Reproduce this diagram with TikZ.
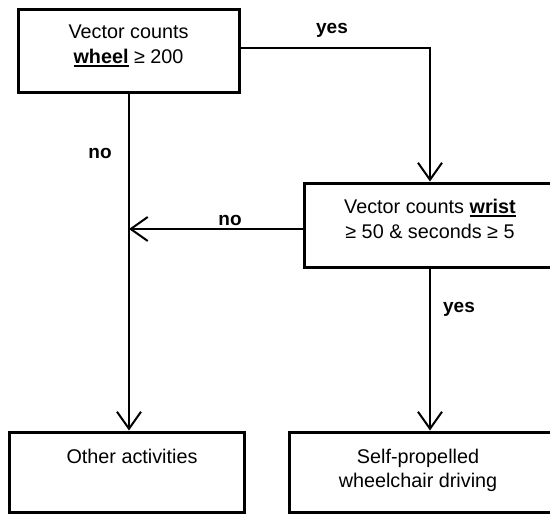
\documentclass[tikz,border=0pt]{standalone}
\usepackage{fontspec}
\setmainfont{Liberation Sans}
\usepackage{tikz}
\usetikzlibrary{arrows.meta}

\newcommand{\undl}[1]{\setbox0\hbox{#1}\rlap{\rule[-3.2pt]{\wd0}{1.6pt}}\box0\relax}

\tikzset{
  box/.style={draw=black,line width=3pt,inner sep=0pt},
  boxtext/.style={inner sep=0pt,align=center,anchor=north,
    font=\fontsize{19.8}{24.5}\selectfont},
  answer/.style={inner sep=0pt,anchor=base,
    font=\fontsize{19}{22}\selectfont\bfseries},
}

\begin{document}
\begin{tikzpicture}[x=1pt,y=-1pt]
\useasboundingbox (0,0) rectangle (550,515);

\node[box,minimum width=221pt,minimum height=83pt] (wheel) at (129,51) {};
\node[box,minimum width=251pt,minimum height=84pt] (wrist) at (430,225) {};
\node[box,minimum width=235pt,minimum height=80pt] (other) at (126.5,472) {};
\node[box,minimum width=281pt,minimum height=80pt] (self) at (430,472) {};

\node[boxtext] (wheeltxt) at (128.5,25) {Vector counts\\\undl{\textbf{wheel}} ≥ 200};
\node[boxtext] (wristtxt) at (430,199) {Vector counts \undl{\textbf{wrist}}\\≥ 50 \& seconds ≥ 5};
\node[boxtext] (othertxt) at (132,449) {Other activities};
\node[boxtext] (selftxt) at (418,448.5) {Self-propelled\\wheelchair driving};

\begin{scope}[>={Straight Barb[length=17pt,width=24pt]},line width=2pt]
    \draw[->] ([yshift=3pt]wheel.east) -| (wrist.north);
    \draw[->] (wheel.south) -- (wheel.south |- other.north);
    \draw[->] ([yshift=-4pt]wrist.west) -- ([yshift=-4pt]wrist.west -| wheel.south);
    \draw[->] (wrist.south) -- (self.north);
\end{scope}

\node[answer] (yestop) at (332,33) {yes};
\node[answer] (noleft) at (100,158) {no};
\node[answer] (nomid) at (230,225) {no};
\node[answer] (yesright) at (459,312) {yes};

\end{tikzpicture}
\end{document}
